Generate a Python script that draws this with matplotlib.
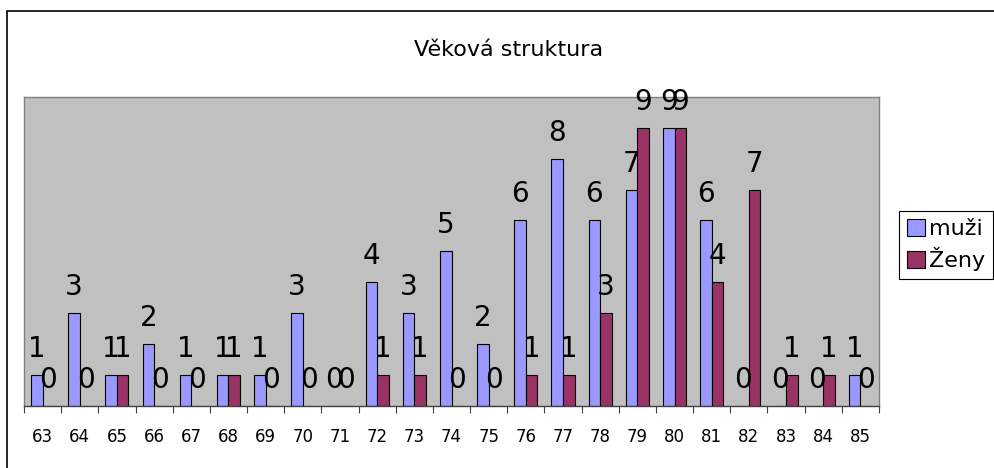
import numpy as np
import matplotlib
matplotlib.use("Agg")
import matplotlib.pyplot as plt
from matplotlib.patches import Rectangle

# data
vek = ['63', '64', '65', '66', '67', '68', '69', '70', '71', '72', '73', '74',
       '75', '76', '77', '78', '79', '80', '81', '82', '83', '84', '85']
muzi = [1, 3, 1, 2, 1, 1, 1, 3, 0, 4, 3, 5, 2, 6, 8, 6, 7, 9, 6, 0, 0, 0, 1]
zeny = [0, 0, 1, 0, 0, 1, 0, 0, 0, 1, 1, 0, 0, 1, 1, 3, 9, 9, 4, 7, 1, 1, 0]

plt.rcParams['font.family'] = ['DejaVu Sans']

fig = plt.figure(figsize=(9.94, 4.68), dpi=100)
fig.patch.set_facecolor('white')

# outer chart border (cut off on the right and bottom like the screenshot)
fig.patches.append(Rectangle((7 / 994, -0.1), 1.2, 1 - 11 / 468 + 0.1,
                             transform=fig.transFigure, fill=False,
                             edgecolor='black', linewidth=1.2))

ax = fig.add_axes([24 / 994, 1 - 405.7 / 468, (879 - 24) / 994, (405.7 - 97) / 468])
ax.set_facecolor('#C0C0C0')

x = np.arange(len(vek))
w = 0.31
b1 = ax.bar(x - w / 2, muzi, w, color='#9999FF', edgecolor='black', linewidth=0.8, label='muži')
b2 = ax.bar(x + w / 2, zeny, w, color='#993366', edgecolor='black', linewidth=0.8, label='Ženy')

# data labels above every bar
for rects, vals in [(b1, muzi), (b2, zeny)]:
    for r, v in zip(rects, vals):
        ax.annotate(str(v), (r.get_x() + r.get_width() / 2, v),
                    xytext=(0, 13), textcoords='offset points',
                    ha='center', va='baseline', fontsize=20, clip_on=False)

ax.set_xlim(-0.5, len(vek) - 0.5)
ax.set_ylim(0, 10)
ax.set_yticks([])
ax.set_xticks(x)
ax.set_xticklabels(vek, fontsize=12)
ax.set_xticks(np.arange(len(vek) + 1) - 0.5, minor=True)
ax.tick_params(axis='x', which='major', length=0, pad=16)
ax.tick_params(axis='x', which='minor', length=5, color='#404040', width=0.8)

for s in ['top', 'right', 'left']:
    ax.spines[s].set_color('#808080')
    ax.spines[s].set_linewidth(1)
ax.spines['bottom'].set_color('#404040')
ax.spines['bottom'].set_linewidth(1)

fig.text(509 / 994, 1 - 50 / 468, 'Věková struktura', ha='center', va='center', fontsize=16)

leg = fig.legend(handles=[b1, b2], loc='upper left',
                 bbox_to_anchor=(899 / 994, 1 - 211 / 468), borderaxespad=0,
                 fontsize=16, fancybox=False, edgecolor='black', framealpha=1,
                 handlelength=0.8, handleheight=0.8, handletextpad=0.2,
                 borderpad=0.35, labelspacing=0.35)
leg.get_frame().set_linewidth(0.8)

fig.savefig('out.png', dpi=100)
